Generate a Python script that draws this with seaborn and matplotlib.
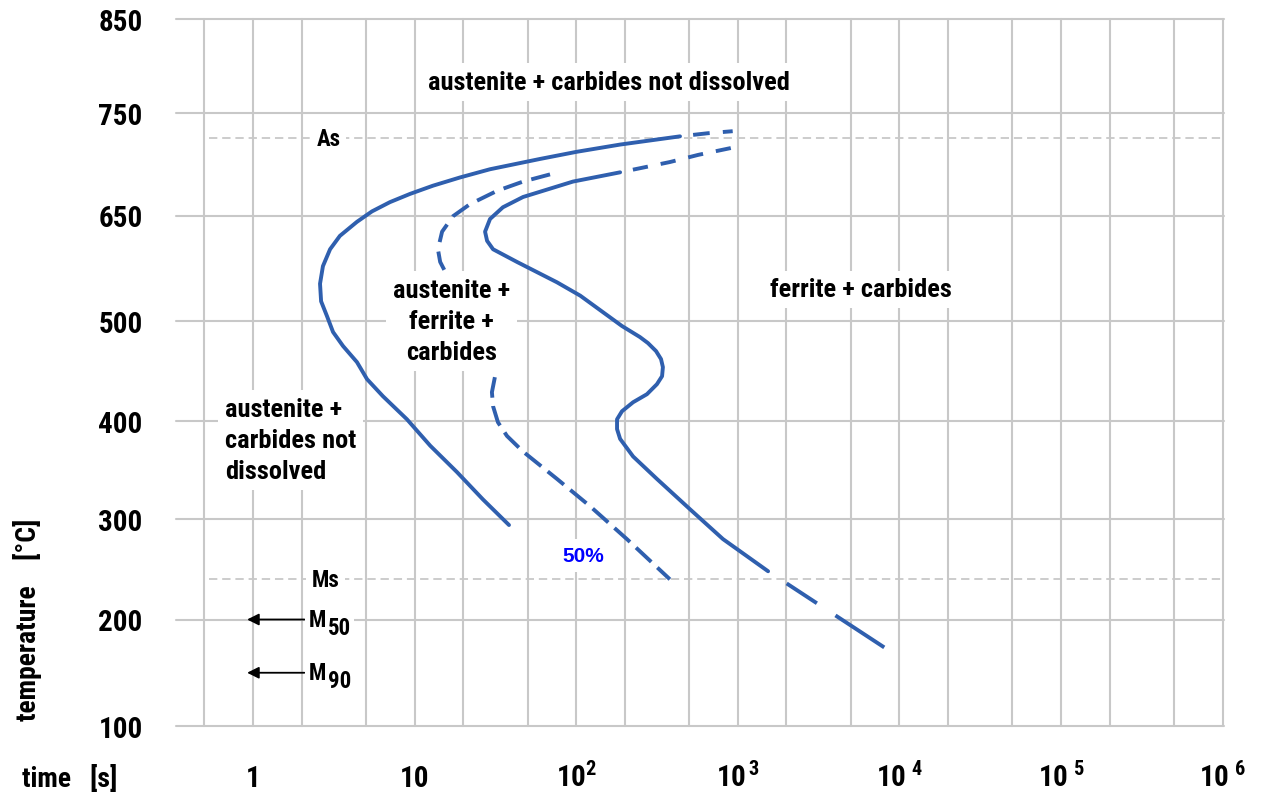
import numpy as np
import matplotlib
matplotlib.use("Agg")
import matplotlib.pyplot as plt
import seaborn as sns
from matplotlib import font_manager
from matplotlib.ticker import NullFormatter, NullLocator

# TTT diagram, values: time [s], temperature [degC]
start_t = [439, 187, 101, 59.7, 29.3, 19.1, 13.0, 9.37, 7.04, 5.45, 4.40, 3.45,
           3.00, 2.71, 2.60, 2.64, 2.87, 3.13, 3.61, 4.40, 5.08, 6.37, 8.97,
           12.5, 18.3, 26.5, 38.4]
start_T = [727, 719, 712, 705, 695, 687, 679, 671, 663, 654, 641, 621,
           602, 578, 553, 528, 507, 489, 475, 459, 442, 425, 402,
           375, 348, 320, 294]
start_tail_t = [439, 650, 930]
start_tail_T = [727, 730, 732]

half_upper_t = [68.9, 46.9, 32.4, 22.0, 17.3, 14.8, 13.95, 14.4, 15.4]
half_upper_T = [690, 683, 674, 661, 649, 627, 602, 584, 571]
half_lower_t = [31.4, 30.1, 30.6, 32.8, 37.3, 46.9, 76.1, 122, 206, 380]
half_lower_T = [444, 429, 415, 399, 385, 369, 341, 313, 280, 240]

end_t = [187, 95.5, 46.9, 35.2, 29.3, 27.3, 28.1, 30.6, 43.0, 76.1, 106, 192,
         248, 278, 312, 335, 344, 340, 316, 274, 225, 192, 179, 179, 187, 225,
         316, 506, 810, 1540]
end_T = [692, 683, 668, 658, 645, 627, 614, 602, 584, 555, 536, 495,
         484, 478, 470, 462, 454, 445, 437, 427, 419, 410, 402, 392, 382, 364,
         341, 310, 280, 248]
end_head_t = [187, 380, 570, 930]
end_head_T = [692, 702, 709, 716]
end_tail_t = [1540, 8400]
end_tail_T = [248, 172]

AS_T = 725
MS_T = 240
M50_T = 200
M90_T = 150

temp_ticks = [100, 200, 300, 400, 500, 650, 750, 850]
time_ticks = [1, 10, 1e2, 1e3, 1e4, 1e5, 1e6]
time_labels = ["1", "10", r"$\mathbf{10}^{2}$", r"$\mathbf{10}^{\,3}$",
               r"$\mathbf{10}^{\;4}$", r"$\mathbf{10}^{\;5}$", r"$\mathbf{10}^{\;6}$"]

# the temperature rows of the original are not evenly spaced
ROW_HEIGHT = [0, 106.5, 207, 304.7, 405, 510.5, 613.3, 707]

BLUE = "#2f5fae"
GRID = "#c8c8c8"
LW = 2.8


def pick_narrow_font():
    # the original uses a narrow bold sans; take one if installed
    found = []
    for f in font_manager.fontManager.ttflist:
        w = f.weight
        bold = w.lower() in ("bold", "heavy", "black") if isinstance(w, str) else w >= 700
        narrow = f.stretch not in ("normal", 500, "medium") or "Narrow" in f.name \
            or "Condensed" in f.name
        if bold and narrow and "Mono" not in f.name and "Serif" not in f.name:
            found.append(f)
    for pref in ("Liberation Sans Narrow", "Roboto Condensed", "DejaVu Sans", "Open Sans"):
        for f in found:
            if f.name.startswith(pref):
                return f.name, f.stretch
    if found:
        return found[0].name, found[0].stretch
    return "Liberation Sans", "normal"


FAMILY, STRETCH = pick_narrow_font()

sns.set_theme(style="white")
plt.rcParams["font.family"] = [FAMILY, "DejaVu Sans"]
plt.rcParams["font.stretch"] = STRETCH
plt.rcParams["font.weight"] = "bold"
plt.rcParams["text.color"] = "black"
plt.rcParams["axes.labelcolor"] = "black"
plt.rcParams["xtick.color"] = "black"
plt.rcParams["ytick.color"] = "black"
plt.rcParams["mathtext.fontset"] = "custom"
plt.rcParams["mathtext.rm"] = FAMILY
plt.rcParams["mathtext.bf"] = FAMILY + ":bold"
plt.rcParams["lines.scale_dashes"] = False


def temp_to_row(v):
    return np.interp(v, temp_ticks, ROW_HEIGHT)


def row_to_temp(v):
    return np.interp(v, ROW_HEIGHT, temp_ticks)


fig = plt.figure(figsize=(12.75, 8.03), dpi=100)
ax = fig.add_axes([176 / 1275, 1 - 727 / 803, 1048 / 1275, 707 / 803])

# scale the font sizes so the long label is as wide as in the original (361 px)
probe = fig.text(0, 0, "austenite + carbides not dissolved", fontsize=19)
k = 361 / probe.get_window_extent(renderer=fig.canvas.get_renderer()).width
probe.remove()
FS_TEXT = 19 * k
FS_TICK = 21 * k
FS_AXLAB = 20 * k
FS_SMALL = 16.5 * k

ax.set_xscale("log")
ax.set_yscale("function", functions=(temp_to_row, row_to_temp))
ax.set_xlim(0.334, 1.02e6)
ax.set_ylim(100, 850)


def draw(t, T, ls="-"):
    sns.lineplot(x=t, y=T, sort=False, estimator=None, color=BLUE,
                 linewidth=LW, linestyle=ls, ax=ax, zorder=3)


draw(start_t, start_T)
draw(start_tail_t, start_tail_T, (12, (12, 9.5)))
draw(half_upper_t, half_upper_T, (0, (14, 7)))
draw(half_lower_t, half_lower_T, (0, (15, 6)))
draw(end_t, end_T)
draw(end_head_t, end_head_T, (11, (11, 9.4)))
draw(end_tail_t, end_tail_T, (84, (26, 16, 42, 16)))

# As / Ms reference lines
for lvl in (AS_T, MS_T):
    ax.axhline(lvl, xmin=0.0315, color=GRID, lw=1.3, linestyle=(0, (6, 3.5)), zorder=1)

box = dict(facecolor="white", edgecolor="none", pad=4)
ax.text(2.95, AS_T, "As", ha="center", va="center", fontsize=FS_SMALL, bbox=box, zorder=5)
ax.text(2.8, MS_T, "Ms", ha="center", va="center", fontsize=FS_SMALL, bbox=box, zorder=5)

for lvl, sub in ((M50_T, "50"), (M90_T, "90")):
    ax.annotate("", xy=(0.92, lvl), xytext=(2.08, lvl),
                arrowprops=dict(arrowstyle="-|>,head_length=0.5,head_width=0.25",
                                color="black", lw=1.3, mutation_scale=14,
                                shrinkA=0, shrinkB=0), zorder=4)
    m = ax.text(2.22, lvl, "M", ha="left", va="center", fontsize=FS_SMALL,
                bbox=dict(facecolor="white", edgecolor="none", pad=3), zorder=5)
    ax.annotate(sub, xy=(1, 0.5), xycoords=m, xytext=(1.5, -5.5),
                textcoords="offset points", ha="left", va="center",
                fontsize=FS_SMALL, zorder=6,
                bbox=dict(facecolor="white", edgecolor="none", pad=1.5))

tbox = dict(facecolor="white", edgecolor="none", pad=5)
ax.text(160, 783, "austenite + carbides not dissolved", ha="center", va="center",
        fontsize=FS_TEXT, bbox=tbox, zorder=5)
ax.text(17, 500, "austenite +\nferrite +\ncarbides", ha="center", va="center",
        fontsize=FS_TEXT, linespacing=1.37, bbox=tbox, zorder=5)
ax.text(0.67, 381, "austenite +\ncarbides not\ndissolved", ha="left", va="center",
        fontsize=FS_TEXT, linespacing=1.38, bbox=tbox, zorder=5)
ax.text(5800, 545, "ferrite + carbides", ha="center", va="center",
        fontsize=FS_TEXT, bbox=tbox, zorder=5)
ax.text(110, 264, "50%", ha="center", va="center", fontsize=15, color="#0000ff",
        family=["Liberation Sans", "DejaVu Sans"], stretch="normal", bbox=tbox, zorder=5)

# axes, ticks and grid
ax.set_xticks(time_ticks, time_labels)
minor = [0.5] + [m * 10 ** k for k in range(6) for m in (2, 5)]
ax.set_xticks(minor, minor=True)
ax.xaxis.set_minor_formatter(NullFormatter())
ax.set_yticks(temp_ticks, [str(v) for v in temp_ticks])
ax.yaxis.set_minor_locator(NullLocator())
ax.tick_params(which="both", length=0)
ax.tick_params(axis="y", pad=24, labelsize=FS_TICK)
ax.tick_params(axis="x", pad=43, labelsize=FS_TICK)
for lab in ax.get_xticklabels():
    lab.set_verticalalignment("baseline")
ax.grid(True, which="both", color=GRID, lw=1.5, clip_on=False)
ax.set_axisbelow(True)
for s in ax.spines.values():
    s.set_visible(False)

ax.set_xlabel("time   [s]", fontsize=FS_AXLAB, fontweight="bold", ha="left", va="baseline")
ax.xaxis.set_label_coords(-0.147, -0.085)
ax.set_ylabel("temperature    [°C]", fontsize=FS_AXLAB, fontweight="bold",
              ha="center", va="center")
ax.yaxis.set_label_coords(-0.142, 0.151)

fig.savefig("out.png", dpi=100)
